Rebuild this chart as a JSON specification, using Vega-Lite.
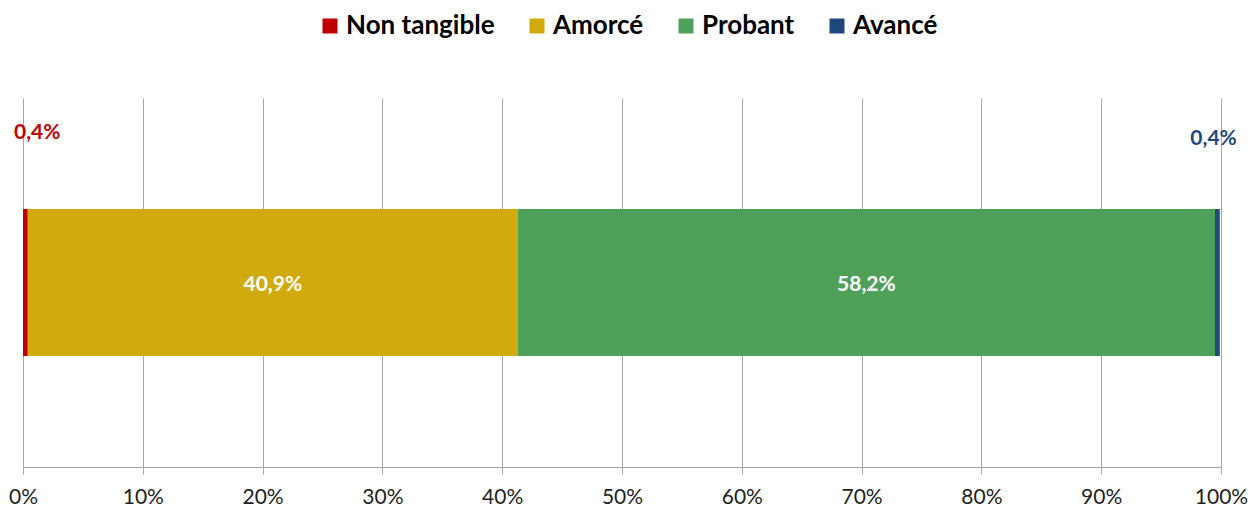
{
  "$schema": "https://vega.github.io/schema/vega-lite/v6.json",
  "autosize": {"type": "none"},
  "padding": {"left": 23, "top": 98, "right": 31, "bottom": 40},
  "width": 1198,
  "height": 369,
  "background": "white",
  "config": {"view": {"stroke": null}, "font": "Lato"},
  "data": {"values": [
    {"category": "Non tangible", "order": 1, "value": 0.4, "label": "0,4%", "row": "A"},
    {"category": "Amorcé", "order": 2, "value": 40.9, "label": "40,9%", "row": "A"},
    {"category": "Probant", "order": 3, "value": 58.2, "label": "58,2%", "row": "A"},
    {"category": "Avancé", "order": 4, "value": 0.4, "label": "0,4%", "row": "A"}
  ]},
  "transform": [
    {"stack": "value", "groupby": ["row"], "sort": [{"field": "order"}], "as": ["x0", "x1"]},
    {"calculate": "(datum.x0 + datum.x1) / 2", "as": "mid"}
  ],
  "encoding": {
    "y": {"field": "row", "type": "nominal", "axis": null, "scale": {"paddingInner": 0, "paddingOuter": 0.755}}
  },
  "layer": [
    {
      "mark": {"type": "bar"},
      "encoding": {
        "x": {"field": "x0", "type": "quantitative", "scale": {"domain": [0, 100], "nice": false},
          "axis": {"values": [0,10,20,30,40,50,60,70,80,90,100], "labelExpr": "datum.value + '%'", "title": null,
            "grid": true, "gridColor": "#A6A6A6", "gridWidth": 1, "domainColor": "#A6A6A6", "tickColor": "#A6A6A6",
            "tickSize": 7, "labelFontSize": 21, "labelColor": "#222222", "labelPadding": 12, "labelFont": "Lato",
            "labelFlush": false, "labelBound": false, "labelOverlap": false}},
        "x2": {"field": "x1"},
        "color": {"field": "category", "type": "nominal",
          "scale": {"domain": ["Non tangible", "Amorcé", "Probant", "Avancé"], "range": ["#C00000", "#D1AB0E", "#4FA15A", "#1F497D"]},
          "sort": null,
          "legend": {"title": null, "orient": "none", "direction": "horizontal", "legendX": 294, "legendY": -85,
            "symbolType": "square", "symbolSize": 225, "symbolStrokeWidth": 0, "labelFont": "Lato", "labelFontWeight": "bold",
            "labelFontSize": 26, "labelColor": "#000000", "labelOffset": 3, "columnPadding": 29}}
      }
    },
    {
      "transform": [{"filter": "datum.category === 'Amorcé' || datum.category === 'Probant'"}],
      "mark": {"type": "text", "color": "white", "fontWeight": "bold", "fontSize": 21, "font": "Lato", "baseline": "middle", "dy": 2},
      "encoding": {"x": {"field": "mid", "type": "quantitative"}, "text": {"field": "label"}}
    },
    {
      "transform": [{"filter": "datum.category === 'Non tangible'"}],
      "mark": {"type": "text", "color": "#C00000", "fontWeight": "bold", "fontSize": 21, "font": "Lato", "align": "left", "baseline": "middle", "dx": -9, "dy": -150},
      "encoding": {"x": {"field": "x0", "type": "quantitative"}, "text": {"field": "label"}}
    },
    {
      "transform": [{"filter": "datum.category === 'Avancé'"}],
      "mark": {"type": "text", "color": "#1F497D", "fontWeight": "bold", "fontSize": 21, "font": "Lato", "align": "right", "baseline": "middle", "dx": 17, "dy": -144},
      "encoding": {"x": {"field": "x1", "type": "quantitative"}, "text": {"field": "label"}}
    }
  ]
}
